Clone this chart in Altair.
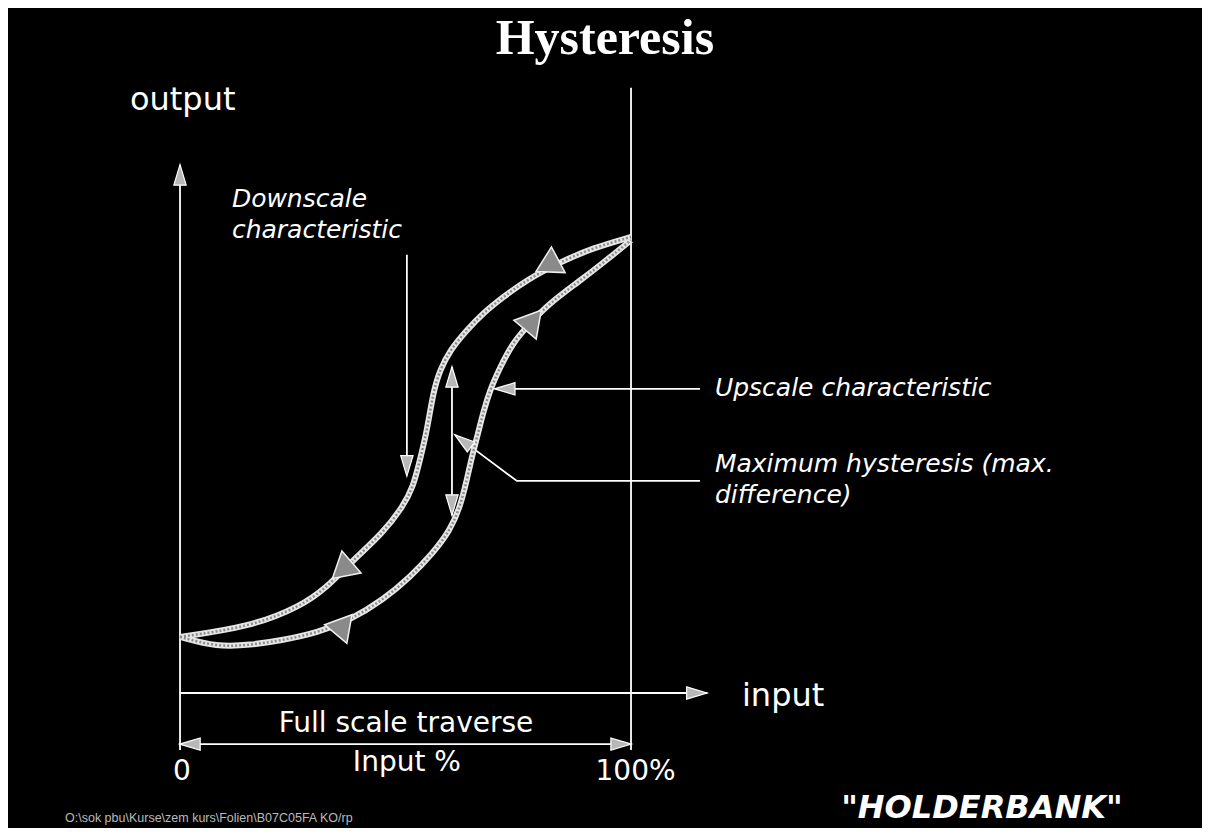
import altair as alt
import pandas as pd

# ---- data (input %, output %) ----
down_x = [0, 15.5, 26.6, 32.6, 37.7, 45.0, 49.4, 51.7, 53.2, 54.8, 56.1, 57.6,
          59.9, 63.6, 67.2, 71.6, 76.9, 84.3, 91.6, 100]
down_y = [12.3, 14.5, 18.9, 23.2, 28.5, 35.1, 40.8, 45.2, 51.1, 57.7, 65.8, 70.8,
          75.2, 79.6, 83.3, 86.8, 90.6, 94.5, 97.6, 100]
up_x = [0, 8.2, 15.5, 22.8, 30.4, 37.7, 45.0, 51.0, 56.1, 59.9, 62.1, 63.6, 64.7,
        66.1, 67.2, 68.7, 71.0, 73.8, 77.6, 82.0, 88.0, 93.8, 100]
up_y = [12.3, 10.1, 10.5, 11.6, 13.2, 16.0, 20.4, 25.4, 30.7, 35.7, 40.8, 46.7, 51.8,
        57.0, 61.4, 66.4, 71.5, 76.8, 81.1, 85.5, 89.9, 94.3, 99.3]

# direction arrowheads on the curves
curve_arrow_x = [81.4, 35.9, 78.3, 34.8]
curve_arrow_y = [93.7, 26.9, 81.8, 14.5]
curve_arrow_angle = [242, 229, 40, 280]

# straight lines: y axis, x axis, 100% marker, 0 tick, bracket, pointers
rule_x = [0, 0, 100, 0, 0, 50.3, 60.3, 70.3]
rule_x2 = [0, 116.9, 100, 0, 100, 50.3, 60.3, 115.3]
rule_y = [0, 0, 132.7, 0, -11.2, 96.1, 71.5, 66.7]
rule_y2 = [115.8, 0, -12.5, -12.5, -11.2, 48.9, 39.0, 66.7]

# bent pointer for maximum hysteresis
bent_x = [61.0, 74.7, 115.3]
bent_y = [56.6, 46.5, 46.5]

# small white arrowheads
head_x = [0, 114.6, 2.2, 97.8, 50.3, 60.3, 60.3, 72.0, 62.7]
head_y = [113.6, 0, -11.2, -11.2, 49.8, 69.3, 41.2, 66.7, 55.3]
head_angle = [0, 90, 270, 90, 180, 0, 180, 270, 307]

# text labels
big_labels = ["output", "input"]
big_x = [-11.1, 124.6]
big_y = [127.9, -2.9]

italic_labels = ["Downscale", "characteristic", "Upscale characteristic",
                 "Maximum hysteresis (max.", "difference)"]
italic_x = [11.5, 11.5, 118.6, 118.6, 118.6]
italic_y = [106.6, 99.8, 65.1, 48.5, 41.7]

scale_labels = ["Full scale traverse", "Input %", "0", "100%"]
scale_x = [50.1, 50.3, 0.4, 101.0]
scale_y = [-8.6, -17.1, -19.0, -19.0]

X = alt.X("x:Q", scale=alt.Scale(domain=[-38.14, 226.6], nice=False, zero=False), axis=None)
Y = alt.Y("y:Q", scale=alt.Scale(domain=[-29.6, 150.2], nice=False, zero=False), axis=None)

curves = pd.DataFrame({
    "x": down_x + up_x,
    "y": down_y + up_y,
    "curve": ["Downscale"] * len(down_x) + ["Upscale"] * len(up_x),
})

curve_outer = alt.Chart(curves).mark_line(
    interpolate="basis", strokeWidth=6, color="#e6e6e6"
).encode(x=X, y=Y, detail="curve:N")
curve_inner = alt.Chart(curves).mark_line(
    interpolate="basis", strokeWidth=2.5, color="#8c8c8c", strokeDash=[2, 2]
).encode(x=X, y=Y, detail="curve:N")

curve_heads = alt.Chart(pd.DataFrame({
    "x": curve_arrow_x, "y": curve_arrow_y, "a": curve_arrow_angle
})).mark_point(
    shape="triangle-up", size=850, filled=True, fill="#8a8a8a",
    stroke="#f0f0f0", strokeWidth=1.5, opacity=1
).encode(x=X, y=Y, angle=alt.Angle("a:Q", scale=None))

rules = alt.Chart(pd.DataFrame({
    "x": rule_x, "x2": rule_x2, "y": rule_y, "y2": rule_y2
})).mark_rule(color="white", strokeWidth=1.8).encode(
    x=X, x2="x2:Q", y=Y, y2="y2:Q"
)

bent = alt.Chart(pd.DataFrame({"x": bent_x, "y": bent_y})).mark_line(
    color="white", strokeWidth=1.8
).encode(x=X, y=Y)

heads = alt.Chart(pd.DataFrame({
    "x": head_x, "y": head_y, "a": head_angle
})).mark_point(
    shape="M0,-1L-0.6,1L0.6,1Z", size=420, filled=True, fill="#b8b8b8",
    stroke="white", strokeWidth=1.2, opacity=1
).encode(x=X, y=Y, angle=alt.Angle("a:Q", scale=None))

title = alt.Chart(pd.DataFrame({"x": [94.2], "y": [140.1], "t": ["Hysteresis"]})).mark_text(
    font="Liberation Serif", fontSize=50, fontWeight="bold", color="white",
    align="center", baseline="alphabetic"
).encode(x=X, y=Y, text="t:N")

big = alt.Chart(pd.DataFrame({"x": big_x, "y": big_y, "t": big_labels})).mark_text(
    font="DejaVu Sans", fontSize=32, color="white", align="left", baseline="alphabetic"
).encode(x=X, y=Y, text="t:N")

italic = alt.Chart(pd.DataFrame({"x": italic_x, "y": italic_y, "t": italic_labels})).mark_text(
    font="DejaVu Sans", fontSize=25, fontStyle="italic", color="white",
    align="left", baseline="alphabetic"
).encode(x=X, y=Y, text="t:N")

scale_txt = alt.Chart(pd.DataFrame({"x": scale_x, "y": scale_y, "t": scale_labels})).mark_text(
    font="DejaVu Sans", fontSize=28, color="white", align="center", baseline="alphabetic"
).encode(x=X, y=Y, text="t:N")

footer = alt.Chart(pd.DataFrame({
    "x": [-25.5], "y": [-28.3], "t": ["O:\\sok pbu\\Kurse\\zem kurs\\Folien\\B07C05FA  KO/rp"]
})).mark_text(
    font="Liberation Sans", fontSize=12.5, color="#bbbbbb", align="left", baseline="alphabetic"
).encode(x=X, y=Y, text="t:N")

logo = alt.Chart(pd.DataFrame({"x": [177.8], "y": [-27.4], "t": ['"HOLDERBANK"']})).mark_text(
    font="DejaVu Sans", fontSize=32, fontWeight="bold", fontStyle="italic",
    color="white", align="center", baseline="alphabetic"
).encode(x=X, y=Y, text="t:N")

chart = alt.layer(
    rules, bent, curve_outer, curve_inner, curve_heads, heads,
    title, big, italic, scale_txt, footer, logo
).properties(
    width=1194, height=820, padding=0, autosize="none", background="black"
).configure_view(strokeWidth=0)

chart.save("out.html", embed_options={"renderer": "svg", "actions": False})
